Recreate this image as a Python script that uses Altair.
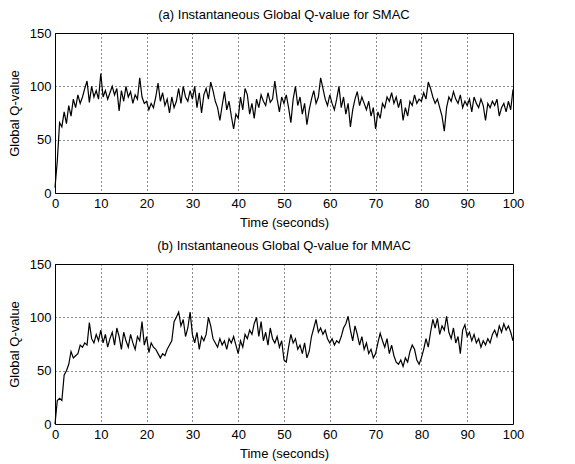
import altair as alt
import pandas as pd

# time axis: samples every 0.5 s from 0 to 100 s
time = [i * 0.5 for i in range(201)]

# (a) SMAC instantaneous global Q-value
smac = [
    5, 30, 66, 62, 76, 65, 82, 72, 88, 80, 92, 84, 90, 98, 105, 85, 100, 90, 96, 88,
    112, 90, 96, 88, 94, 100, 92, 98, 77, 96, 86, 100, 90, 95, 84, 92, 88, 108, 90, 84,
    86, 78, 84, 80, 90, 103, 86, 94, 82, 88, 75, 90, 80, 86, 98, 84, 100, 90, 86, 96,
    88, 100, 80, 94, 75, 92, 98, 88, 104, 96, 86, 80, 68, 82, 95, 78, 86, 72, 60, 74,
    70, 90, 78, 98, 92, 74, 84, 70, 88, 80, 92, 86, 82, 94, 85, 88, 105, 88, 76, 90,
    84, 92, 80, 66, 88, 100, 82, 90, 74, 84, 64, 78, 88, 96, 84, 90, 108, 98, 88, 82,
    92, 84, 78, 88, 100, 80, 90, 74, 84, 62, 78, 88, 95, 82, 90, 84, 78, 86, 72, 80,
    60, 76, 70, 84, 80, 90, 86, 94, 84, 90, 80, 88, 68, 80, 72, 86, 82, 92, 84, 88,
    86, 94, 88, 104, 98, 90, 84, 88, 80, 72, 58, 80, 90, 86, 95, 88, 84, 92, 80, 86,
    82, 88, 76, 90, 84, 80, 88, 82, 68, 84, 80, 86, 82, 88, 72, 80, 84, 76, 86, 78, 97,
]

# (b) MMAC instantaneous global Q-value
mmac = [
    0, 22, 24, 22, 46, 50, 56, 68, 62, 64, 66, 74, 72, 76, 74, 95, 80, 76, 84, 78,
    88, 76, 84, 72, 80, 86, 74, 90, 82, 70, 86, 78, 72, 84, 76, 70, 82, 78, 96, 74,
    82, 67, 76, 72, 70, 66, 62, 66, 64, 70, 74, 78, 96, 100, 105, 92, 98, 82, 90, 105,
    84, 76, 86, 70, 82, 78, 84, 100, 92, 80, 76, 72, 80, 74, 78, 70, 80, 76, 82, 74,
    66, 78, 72, 84, 80, 88, 84, 94, 100, 82, 96, 78, 86, 74, 90, 80, 76, 82, 72, 78,
    60, 58, 72, 84, 76, 80, 70, 74, 66, 76, 62, 68, 82, 90, 98, 86, 90, 84, 88, 80,
    76, 80, 74, 78, 76, 82, 90, 94, 101, 88, 78, 92, 84, 74, 82, 70, 76, 66, 70, 62,
    66, 76, 85, 78, 72, 80, 66, 74, 64, 58, 56, 60, 54, 62, 58, 68, 74, 70, 60, 56,
    62, 70, 80, 72, 86, 98, 90, 99, 84, 92, 88, 101, 86, 80, 90, 76, 82, 66, 88, 93,
    82, 86, 78, 84, 76, 80, 72, 78, 74, 80, 76, 84, 88, 82, 92, 86, 94, 88, 92, 86, 78,
]

titles = [
    "(a) Instantaneous Global Q-value for SMAC",
    "(b) Instantaneous Global Q-value for MMAC",
]
x_ticks = list(range(0, 101, 10))
y_ticks = [0, 50, 100, 150]

FONT = "Liberation Sans"


def panel(values, title):
    df = pd.DataFrame({"Time": time, "Q": values})
    return (
        alt.Chart(
            df,
            title=alt.TitleParams(
                title, fontSize=13, fontWeight="normal", font=FONT,
                color="black", offset=5, anchor="middle",
            ),
        )
        .mark_line(color="black", strokeWidth=1.2)
        .encode(
            x=alt.X(
                "Time:Q",
                scale=alt.Scale(domain=[0, 100], nice=False, zero=False),
                axis=alt.Axis(values=x_ticks, title="Time (seconds)",
                              labelPadding=4, titlePadding=6),
            ),
            y=alt.Y(
                "Q:Q",
                scale=alt.Scale(domain=[0, 150], nice=False),
                axis=alt.Axis(values=y_ticks, title="Global Q-value",
                              labelPadding=4, titlePadding=8),
            ),
        )
        .properties(width=458, height=160)
    )


chart = (
    alt.vconcat(panel(smac, titles[0]), panel(mmac, titles[1]), spacing=9)
    .properties(padding={"left": 7, "top": 8, "right": 5, "bottom": 0},
                background="white")
    .configure_axis(
        labelFont=FONT, titleFont=FONT, labelFontSize=13, titleFontSize=13,
        titleFontWeight="normal", labelColor="black", titleColor="black",
        domain=False, ticks=False, grid=True, gridColor="black",
        gridDash=[1, 3], gridWidth=1, gridOpacity=0.9,
        labelFlush=False, labelOverlap=False,
    )
    .configure_view(stroke="black", strokeWidth=1)
)

chart.save("out.html", embed_options={"renderer": "svg", "actions": False})
